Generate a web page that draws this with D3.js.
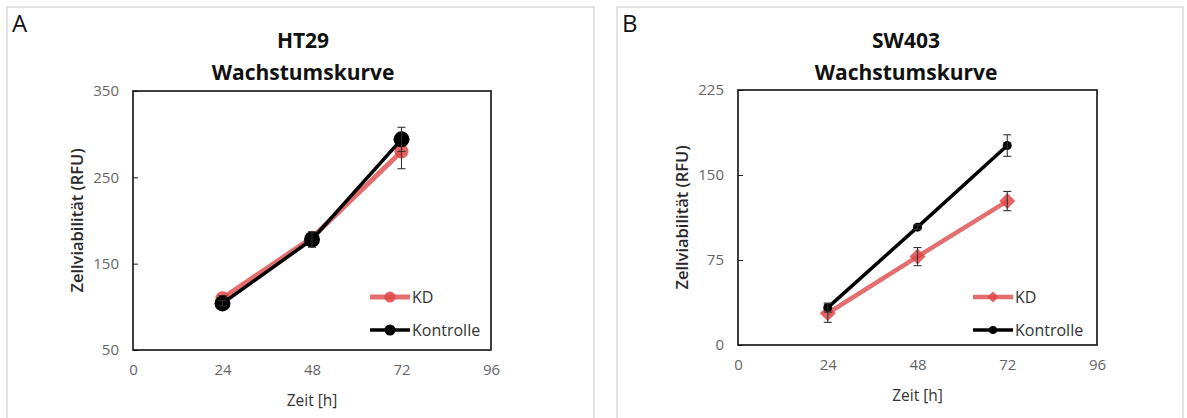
<!DOCTYPE html>
<html>
<head>
<meta charset="utf-8">
<script src="https://cdn.jsdelivr.net/npm/d3@7"></script>
<style>
  html, body { margin: 0; padding: 0; background: #fff; }
  svg { display: block; font-family: "Open Sans", "DejaVu Sans", sans-serif; }
</style>
</head>
<body>
<svg id="chart" width="1187" height="418"></svg>
<script>
// ---- Data ----
const timePoints = [24, 48, 72];
const xTicks = [0, 24, 48, 72, 96];

const ht29KD = [110, 180, 280];
const ht29KDErr = [3, 5, 20];
const ht29Kontrolle = [104, 178, 294];
const ht29KontrolleErr = [3, 9, 14];
const ht29YTicks = [50, 150, 250, 350];

const sw403KD = [28, 78, 127];
const sw403KDErr = [8, 8, 8.5];
const sw403Kontrolle = [33, 104, 176];
const sw403KontrolleErr = [4, 2, 9.5];
const sw403YTicks = [0, 75, 150, 225];

const seriesNames = ["KD", "Kontrolle"];
const titleLines = { A: ["HT29", "Wachstumskurve"], B: ["SW403", "Wachstumskurve"] };
const xTitle = "Zeit [h]";
const yTitle = "Zellviabilität (RFU)";

const svg = d3.select("#chart");
const KD_LINE = "#e46e6e";
const KD_MARK = "#e04848";

function drawPanel(cfg) {
  const g = svg.append("g");
  g.append("rect")
    .attr("x", cfg.frame[0]).attr("y", cfg.frame[1])
    .attr("width", cfg.frame[2]).attr("height", cfg.frame[3])
    .attr("fill", "none").attr("stroke", "#dadada").attr("stroke-width", 1.5);

  g.append("text").attr("x", cfg.letterX).attr("y", 32)
    .attr("font-size", 24).attr("fill", "#111").text(cfg.letter);

  const x = d3.scaleLinear().domain([0, 96]).range([cfg.left, cfg.right]);
  const y = d3.scaleLinear().domain([cfg.yTicks[0], cfg.yTicks[cfg.yTicks.length - 1]]).range([cfg.bottom, cfg.top]);

  cfg.title.forEach((t, i) => {
    g.append("text").attr("x", cfg.titleX).attr("y", 48 + i * 32)
      .attr("text-anchor", "middle").attr("font-size", 21).attr("font-weight", "bold")
      .attr("fill", "#111").text(t);
  });

  const yAxis = d3.axisLeft(y).tickValues(cfg.yTicks).tickSize(-5).tickPadding(14);
  const ya = g.append("g").attr("transform", `translate(${cfg.left},0)`).call(yAxis);
  ya.select(".domain").remove();
  ya.selectAll("line").attr("stroke", "#222").attr("stroke-width", 1);
  ya.selectAll("text").attr("font-size", 15).attr("fill", "#666").attr("font-family", "Open Sans");

  const xAxis = d3.axisBottom(x).tickValues(xTicks).tickSize(0).tickPadding(14);
  const xa = g.append("g").attr("transform", `translate(0,${cfg.bottom})`).call(xAxis);
  xa.select(".domain").remove();
  xa.selectAll("text").attr("font-size", 15).attr("fill", "#666").attr("font-family", "Open Sans");

  g.append("rect").attr("x", cfg.left).attr("y", cfg.top)
    .attr("width", cfg.right - cfg.left).attr("height", cfg.bottom - cfg.top)
    .attr("fill", "none").attr("stroke", "#111").attr("stroke-width", 1.6);

  g.append("text").attr("x", (cfg.left + cfg.right) / 2).attr("y", cfg.bottom + 56)
    .attr("text-anchor", "middle").attr("font-size", 15.5).attr("fill", "#333").text(xTitle);
  g.append("text").attr("transform", `translate(${cfg.yTitleX},${(cfg.top + cfg.bottom) / 2}) rotate(-90)`)
    .attr("text-anchor", "middle").attr("font-size", 16.5).attr("font-weight", 600)
    .attr("fill", "#2a2a2a").text(yTitle);

  const line = d3.line().x((d, i) => x(timePoints[i])).y(d => y(d));

  const series = [
    { name: seriesNames[0], vals: cfg.kd, err: cfg.kdErr, stroke: KD_LINE, width: cfg.kdWidth, mark: cfg.kdMark, fill: KD_MARK, op: 0.85, size: cfg.kdSize },
    { name: seriesNames[1], vals: cfg.ko, err: cfg.koErr, stroke: "#000", width: cfg.koWidth, mark: "circle", fill: "#000", op: 1, size: cfg.koSize }
  ];

  function marker(sel, type, cx, cy, s, fill, op) {
    if (type === "circle") {
      sel.append("circle").attr("cx", cx).attr("cy", cy).attr("r", s).attr("fill", fill).attr("fill-opacity", op);
    } else {
      sel.append("path").attr("d", `M${cx},${cy - s}L${cx + s},${cy}L${cx},${cy + s}L${cx - s},${cy}Z`)
        .attr("fill", fill).attr("fill-opacity", op);
    }
  }

  series.forEach((s, si) => {
    const sg = g.append("g");
    sg.append("path").datum(s.vals).attr("d", line).attr("fill", "none")
      .attr("stroke", s.stroke).attr("stroke-width", s.width).attr("stroke-linejoin", "round");
    s.vals.forEach((v, i) => marker(sg, s.mark, x(timePoints[i]), y(v), s.size, s.fill, s.op));
    s.vals.forEach((v, i) => {
      const cx = x(timePoints[i]);
      const y1 = y(v + s.err[i]), y2 = y(v - s.err[i]);
      const eg = sg.append("g").attr("stroke", "#333").attr("stroke-width", 1.1);
      eg.append("line").attr("x1", cx).attr("x2", cx).attr("y1", y1).attr("y2", y2);
      eg.append("line").attr("x1", cx - 4).attr("x2", cx + 4).attr("y1", y1).attr("y2", y1);
      eg.append("line").attr("x1", cx - 4).attr("x2", cx + 4).attr("y1", y2).attr("y2", y2);
    });
    const ly = 297 + si * 33;
    const lg = g.append("g");
    lg.append("line").attr("x1", cfg.legendX).attr("x2", cfg.legendX + 40).attr("y1", ly).attr("y2", ly)
      .attr("stroke", s.stroke).attr("stroke-width", s.width);
    marker(lg, s.mark, cfg.legendX + 20, ly, si === 0 ? cfg.legKdSize : cfg.legKoSize, s.fill, s.op);
    lg.append("text").attr("x", cfg.legendX + 42).attr("y", ly + 5.5)
      .attr("font-size", 16).attr("fill", "#333").text(s.name);
  });
}

drawPanel({
  frame: [7, 7, 587, 430], letter: "A", letterX: 12,
  left: 133, right: 491, top: 91, bottom: 350,
  titleX: 303, yTitleX: 83,
  yTicks: ht29YTicks, title: titleLines.A,
  kd: ht29KD, kdErr: ht29KDErr, ko: ht29Kontrolle, koErr: ht29KontrolleErr,
  kdMark: "circle", kdSize: 7, koSize: 8, kdWidth: 5, koWidth: 3.5,
  legendX: 370, legKdSize: 5.5, legKoSize: 5.5
});

drawPanel({
  frame: [617, 7, 566, 430], letter: "B", letterX: 622,
  left: 738, right: 1097, top: 90, bottom: 345,
  titleX: 906, yTitleX: 688,
  yTicks: sw403YTicks, title: titleLines.B,
  kd: sw403KD, kdErr: sw403KDErr, ko: sw403Kontrolle, koErr: sw403KontrolleErr,
  kdMark: "diamond", kdSize: 8, koSize: 4.5, kdWidth: 4.5, koWidth: 3.5,
  legendX: 973, legKdSize: 5.5, legKoSize: 4
});
</script>
</body>
</html>
